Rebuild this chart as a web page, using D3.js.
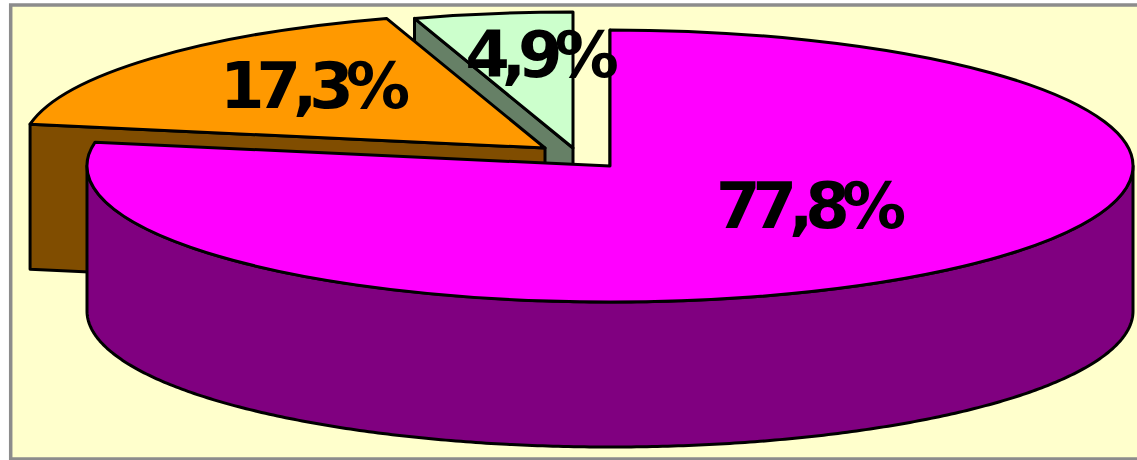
<!DOCTYPE html>
<html>
<head>
<meta charset="utf-8">
<script src="https://cdn.jsdelivr.net/npm/d3@7"></script>
<style>
  html, body { margin: 0; padding: 0; background: #fff; }
  svg { display: block; }
  text { font-family: "DejaVu Sans", sans-serif; font-weight: bold; fill: #000; }
</style>
</head>
<body>
<div id="chart"></div>
<script>
const labels = ['77,8%', '17,3%', '4,9%'];
const values = [77.8, 17.3, 4.9];
const topColors = ['#ff00ff', '#ff9900', '#ccffcc'];
const wallColors = ['#800080', '#804d00', '#668066'];

const width = 1137;
const height = 460;
const rx = 523;
const ry = 136;
const depth = 145;

// where the tip of each slice sits, slices two and three are pulled out
const tips = [[610, 166], [545, 148], [573, 148]];
const labelPos = [[807, 228], [311, 108], [538, 77]];

const svg = d3.select('#chart')
  .append('svg')
  .attr('width', width)
  .attr('height', height);

svg.append('rect')
  .attr('x', 10.7)
  .attr('y', 5)
  .attr('width', 1140)
  .attr('height', 454)
  .attr('fill', '#ffffcc')
  .attr('stroke', '#8c8c8c')
  .attr('stroke-width', 3.5);

const pie = d3.pie().sort(null);
const arc = d3.arc().innerRadius(0).outerRadius(rx);
const slices = pie(values);

const edge = (tip, a) => [tip[0] + rx * Math.sin(a), tip[1] - ry * Math.cos(a)];

const line = d3.line();
const wallArea = d3.area()
  .x((d) => d.x)
  .y0((d) => d.y)
  .y1((d) => d.y + depth);

// draw back to front: the small slice first, the big one last
[2, 1, 0].forEach((i) => {
  const s = slices[i];
  const tip = tips[i];
  const g = svg.append('g')
    .attr('stroke', '#000')
    .attr('stroke-width', 3)
    .attr('stroke-linejoin', 'round');

  // flat cut face, pushed down by the depth
  const p = edge(tip, s.startAngle);
  g.append('path')
    .attr('d', line([tip, p, [p[0], p[1] + depth], [tip[0], tip[1] + depth]]) + 'Z')
    .attr('fill', wallColors[i]);

  // outer rim, only the part turned to the viewer
  const from = Math.max(s.startAngle, Math.PI / 2);
  const to = Math.min(s.endAngle, Math.PI * 1.5);
  if (to > from) {
    const pts = d3.range(from, to, 0.01).concat(to).map((a) => {
      const q = edge(tip, a);
      return { x: q[0], y: q[1] };
    });
    g.append('path')
      .attr('d', wallArea(pts))
      .attr('fill', wallColors[i]);
  }

  g.append('path')
    .attr('d', arc(s))
    .attr('transform', `translate(${tip[0]},${tip[1]}) scale(1,${ry / rx})`)
    .attr('vector-effect', 'non-scaling-stroke')
    .attr('fill', topColors[i]);
});

svg.selectAll('text.pct')
  .data(labels)
  .enter()
  .append('text')
  .attr('class', 'pct')
  .attr('x', (d, i) => labelPos[i][0])
  .attr('y', (d, i) => labelPos[i][1])
  .attr('text-anchor', 'middle')
  .attr('font-size', 64)
  .attr('letter-spacing', -8)
  .text((d) => d);
</script>
</body>
</html>
